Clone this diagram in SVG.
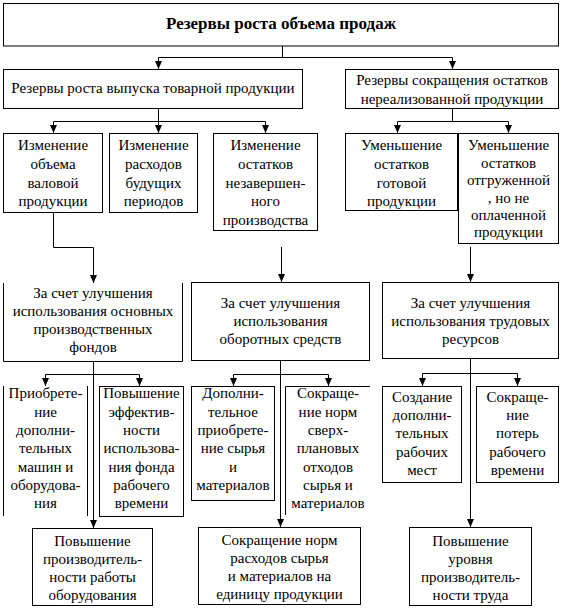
<svg xmlns="http://www.w3.org/2000/svg" width="567" height="616" viewBox="0 0 567 616">
<defs>
<marker id="ah" viewBox="0 0 10 10" refX="10" refY="5" markerWidth="8" markerHeight="7" markerUnits="userSpaceOnUse" orient="auto" preserveAspectRatio="none"><path d="M0,0 L10,5 L0,10 z" fill="#000"/></marker>
</defs>
<rect width="567" height="616" fill="#fff"/>
<g id="connectors" fill="none" stroke="#000" stroke-width="1">
<path d="M282.5,46 V57.5 M158.5,57.5 H452.5"/>
<path marker-end="url(#ah)" d="M158.5,57.5 V69"/>
<path marker-end="url(#ah)" d="M452.5,57.5 V69"/>
<path d="M158.5,108 V121.5 M53.5,121.5 H265.5"/>
<path marker-end="url(#ah)" d="M53.5,121.5 V133"/>
<path marker-end="url(#ah)" d="M158.5,121.5 V133"/>
<path marker-end="url(#ah)" d="M265.5,121.5 V133"/>
<path d="M452.5,108 V121.5 M397.5,121.5 H508.5"/>
<path marker-end="url(#ah)" d="M397.5,121.5 V133"/>
<path marker-end="url(#ah)" d="M508.5,121.5 V133"/>
<path marker-end="url(#ah)" d="M53.5,212 V247.5 H93.5 V283"/>
<path marker-end="url(#ah)" d="M281.5,247 V282"/>
<path marker-end="url(#ah)" d="M470.5,247 V282"/>
<path marker-end="url(#ah)" d="M93.5,361 V528"/>
<path d="M45.5,374.5 H139.5"/>
<path marker-end="url(#ah)" d="M45.5,374.5 V386"/>
<path marker-end="url(#ah)" d="M139.5,374.5 V386"/>
<path marker-end="url(#ah)" d="M280.5,360 V527"/>
<path d="M233.5,374.5 H328.5"/>
<path marker-end="url(#ah)" d="M233.5,374.5 V386"/>
<path marker-end="url(#ah)" d="M328.5,374.5 V386"/>
<path marker-end="url(#ah)" d="M470.5,358 V527"/>
<path d="M422.5,373.5 H517.5"/>
<path marker-end="url(#ah)" d="M422.5,373.5 V386"/>
<path marker-end="url(#ah)" d="M517.5,373.5 V386"/>
</g>
<g id="boxes" fill="#fff" stroke="#000" stroke-width="1">
<rect id="title-box" x="3.5" y="3.5" width="555" height="42.5"/>
<rect id="reserves-output-box" x="3.5" y="69.5" width="299" height="39"/>
<rect id="reserves-stock-box" x="345.5" y="69.5" width="213" height="39"/>
<rect id="gross-output-box" x="3.5" y="133.5" width="99" height="79"/>
<rect id="deferred-expenses-box" x="109.5" y="133.5" width="88" height="79"/>
<rect id="wip-box" x="213.5" y="133.5" width="104" height="97"/>
<rect id="finished-goods-box" x="345.5" y="133.5" width="112" height="77"/>
<rect id="shipped-goods-box" x="458.5" y="133.5" width="100" height="110"/>
<path id="fixed-assets-box" fill="none" d="M3.5,283 V361.5 H182.5 V283"/>
<rect id="working-capital-box" x="191.5" y="282.5" width="178" height="78"/>
<rect id="labour-box" x="382.5" y="282.5" width="176" height="76"/>
<path id="machines-box" fill="none" d="M3.5,386 V516 M87.5,386 V516"/>
<rect id="equipment-time-box" x="99.5" y="386.5" width="84" height="130"/>
<rect id="extra-materials-box" x="191.5" y="386.5" width="83" height="114"/>
<path id="waste-box" fill="none" d="M370,386.5 H285.5 V515"/>
<rect id="new-jobs-box" x="382.5" y="386.5" width="79" height="96"/>
<rect id="lost-time-box" x="476.5" y="386.5" width="82" height="96"/>
<rect id="equipment-productivity-box" x="32.5" y="528.5" width="120" height="77"/>
<rect id="material-norms-box" x="198.5" y="527.5" width="162" height="77"/>
<rect id="labour-productivity-box" x="409.5" y="527.5" width="122" height="78"/>
</g>
<g id="labels" font-family="Liberation Serif" font-size="15" text-anchor="middle" fill="#000">
<text x="281" y="29" font-size="17" font-weight="bold">Резервы роста объема продаж</text>
<text x="153" y="93">Резервы роста выпуска товарной продукции</text>
<text x="452" y="85">Резервы сокращения остатков</text>
<text x="452" y="104">нереализованной продукции</text>
<text x="53" y="150">Изменение</text>
<text x="53" y="169">объема</text>
<text x="53" y="188">валовой</text>
<text x="53" y="206">продукции</text>
<text x="153.5" y="150">Изменение</text>
<text x="153.5" y="169">расходов</text>
<text x="153.5" y="188">будущих</text>
<text x="153.5" y="206">периодов</text>
<text x="265.5" y="150">Изменение</text>
<text x="265.5" y="169">остатков</text>
<text x="265.5" y="188">незавершен-</text>
<text x="265.5" y="206">ного</text>
<text x="265.5" y="225">производства</text>
<text x="401.5" y="150">Уменьшение</text>
<text x="401.5" y="169">остатков</text>
<text x="401.5" y="188">готовой</text>
<text x="401.5" y="206">продукции</text>
<text x="508.5" y="150">Уменьшение</text>
<text x="508.5" y="168">остатков</text>
<text x="508.5" y="185">отгруженной</text>
<text x="508.5" y="203">, но не</text>
<text x="508.5" y="220">оплаченной</text>
<text x="508.5" y="237">продукции</text>
<text x="93" y="298">За счет улучшения</text>
<text x="93" y="316">использования основных</text>
<text x="93" y="334">производственных</text>
<text x="93" y="352">фондов</text>
<text x="280.5" y="308">За счет улучшения</text>
<text x="280.5" y="326">использования</text>
<text x="280.5" y="344">оборотных средств</text>
<text x="470.5" y="308">За счет улучшения</text>
<text x="470.5" y="326">использования трудовых</text>
<text x="470.5" y="344">ресурсов</text>
<text x="45.5" y="398">Приобрете-</text>
<text x="45.5" y="416.5">ние</text>
<text x="45.5" y="435">дополни-</text>
<text x="45.5" y="453">тельных</text>
<text x="45.5" y="471.5">машин и</text>
<text x="45.5" y="490">оборудова-</text>
<text x="45.5" y="508">ния</text>
<text x="141.5" y="398">Повышение</text>
<text x="141.5" y="416.5">эффектив-</text>
<text x="141.5" y="435">ности</text>
<text x="141.5" y="453">использова-</text>
<text x="141.5" y="471.5">ния фонда</text>
<text x="141.5" y="490">рабочего</text>
<text x="141.5" y="508">времени</text>
<text x="233" y="398">Дополни-</text>
<text x="233" y="416.5">тельное</text>
<text x="233" y="435">приобрете-</text>
<text x="233" y="453">ние сырья</text>
<text x="233" y="471.5">и</text>
<text x="233" y="490">материалов</text>
<text x="328" y="398">Сокраще-</text>
<text x="328" y="416.5">ние норм</text>
<text x="328" y="435">сверх-</text>
<text x="328" y="453">плановых</text>
<text x="328" y="471.5">отходов</text>
<text x="328" y="490">сырья и</text>
<text x="328" y="508">материалов</text>
<text x="422" y="402">Создание</text>
<text x="422" y="420">дополни-</text>
<text x="422" y="438">тельных</text>
<text x="422" y="457">рабочих</text>
<text x="422" y="475">мест</text>
<text x="517.5" y="402">Сокраще-</text>
<text x="517.5" y="420">ние</text>
<text x="517.5" y="438">потерь</text>
<text x="517.5" y="457">рабочего</text>
<text x="517.5" y="475">времени</text>
<text x="92.5" y="546">Повышение</text>
<text x="92.5" y="564">производитель-</text>
<text x="92.5" y="582">ности работы</text>
<text x="92.5" y="600">оборудования</text>
<text x="279.5" y="545">Сокращение норм</text>
<text x="279.5" y="563">расходов сырья</text>
<text x="279.5" y="581">и материалов на</text>
<text x="279.5" y="599">единицу продукции</text>
<text x="470.5" y="546">Повышение</text>
<text x="470.5" y="564">уровня</text>
<text x="470.5" y="582">производитель-</text>
<text x="470.5" y="600">ности труда</text>
</g>
</svg>
